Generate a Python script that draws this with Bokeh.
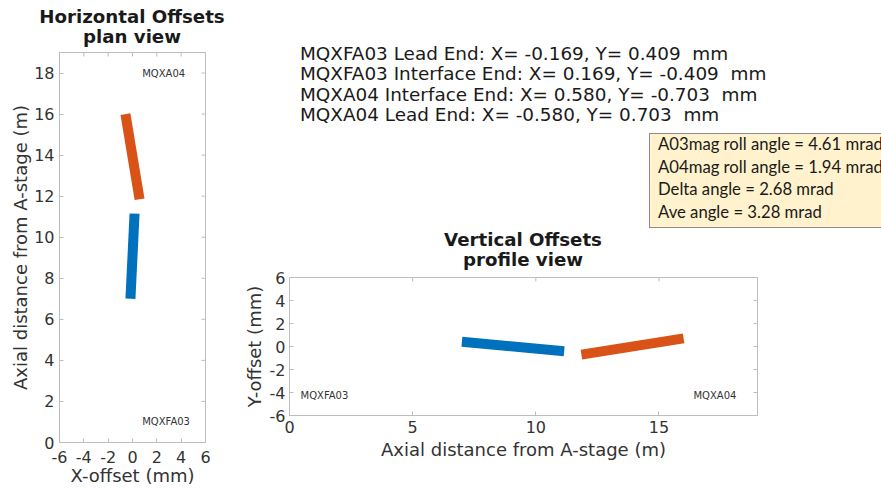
import math
from bokeh.plotting import figure
from bokeh.layouts import row, column
from bokeh.models import Range1d, FixedTicker, Div
from bokeh.core.properties import value
from bokeh.embed import file_html
from bokeh.resources import INLINE

# ---------------- data ----------------
# MQXFA03 (blue): lead end -> interface end
a03_z = [7.0, 11.15]          # axial distance from A-stage (m)
a03_x = [-0.169, 0.169]       # X-offset (mm)
a03_y = [0.409, -0.409]       # Y-offset (mm)
# MQXA04 (orange): interface end -> lead end
a04_z = [11.85, 16.0]
a04_x = [0.580, -0.580]
a04_y = [-0.703, 0.703]

roll_names = ["A03mag roll angle", "A04mag roll angle", "Delta angle", "Ave angle"]
roll_values = [4.61, 1.94, 2.68, 3.28]

plan_x_ticks = [-6, -4, -2, 0, 2, 4, 6]
plan_y_ticks = [0, 2, 4, 6, 8, 10, 12, 14, 16, 18]
prof_x_ticks = [0, 5, 10, 15]
prof_y_ticks = [-6, -4, -2, 0, 2, 4, 6]

BLUE = "#0072BD"
ORANGE = "#D95319"
FRAME = "#bdbdbd"
TXT = "#333333"
FONT = "DejaVu Sans"


def style_axis(ax, ticks):
    ax.ticker = FixedTicker(ticks=ticks)
    ax.major_label_overrides = {t: str(t) for t in ticks}
    ax.axis_line_color = FRAME
    ax.major_tick_line_color = FRAME
    ax.major_tick_in = 4
    ax.major_tick_out = 0
    ax.minor_tick_line_color = None
    ax.major_label_text_font = FONT
    ax.major_label_text_font_size = "16px"
    ax.major_label_text_color = TXT
    ax.axis_label_text_font = FONT
    ax.axis_label_text_font_size = "18px"
    ax.axis_label_text_font_style = "normal"
    ax.axis_label_text_color = TXT


def mirror_ticks(p, xticks, yticks, xmax, ymax):
    # inward tick marks on the top and right edges (outer half is clipped by the frame)
    p.scatter(xticks, [ymax] * len(xticks), marker="dash", size=8, angle=math.pi / 2,
              line_color=FRAME, line_width=1)
    p.scatter([xmax] * len(yticks), yticks, marker="dash", size=8,
              line_color=FRAME, line_width=1)


def abs_text(left, top, text, size, font=FONT, weight="normal", width=None, align="left"):
    w = f"width:{width}px;" if width is not None else ""
    return (f'<div style="position:absolute;left:{left}px;top:{top}px;{w}'
            f'text-align:{align};white-space:pre;font-family:\'{font}\';font-size:{size}px;'
            f'font-weight:{weight};line-height:20px;color:#1a1a1a;">{text}</div>')


# ---------------- left: plan view ----------------
lt_html = ('<div style="position:relative;width:240px;height:48px;background:white;">'
           + abs_text(0, 7, "Horizontal Offsets", 18.2, weight="bold", width=264, align="center")
           + abs_text(0, 27, "plan view", 18.2, weight="bold", width=264, align="center")
           + '</div>')
lt = Div(text=lt_html, width=240, height=48, margin=0)

lp = figure(width=240, height=440, x_range=Range1d(-6, 6), y_range=Range1d(0, 19),
            min_border_left=59, min_border_right=35, min_border_top=4, min_border_bottom=46,
            toolbar_location=None, output_backend="svg")
lp.grid.visible = False
lp.outline_line_color = FRAME
style_axis(lp.xaxis[0], plan_x_ticks)
style_axis(lp.yaxis[0], plan_y_ticks)
lp.xaxis.axis_label = "X-offset (mm)"
lp.yaxis.axis_label = "Axial distance from A-stage (m)"
lp.xaxis.major_label_standoff = 8
lp.xaxis.axis_label_standoff = -1
lp.yaxis.major_label_standoff = 5
lp.yaxis.axis_label_standoff = 0
mirror_ticks(lp, plan_x_ticks, plan_y_ticks, 6, 19)
lp.line(a03_x, a03_z, line_width=10, color=BLUE, line_cap="butt")
lp.line(a04_x, a04_z, line_width=10, color=ORANGE, line_cap="butt")
lp.text(x=[0.8, 0.8], y=[18.0, 1.0], text=["MQXA04", "MQXFA03"],
        text_font=value(FONT), text_font_size="10px", text_color=TXT,
        text_align="left", text_baseline="middle")

# ---------------- right top: annotations + bottom-plot title ----------------
lines = [
    f"MQXFA03 Lead End: X= {a03_x[0]:.3f}, Y= {a03_y[0]:.3f}  mm",
    f"MQXFA03 Interface End: X= {a03_x[1]:.3f}, Y= {a03_y[1]:.3f}  mm",
    f"MQXA04 Interface End: X= {a04_x[0]:.3f}, Y= {a04_y[0]:.3f}  mm",
    f"MQXA04 Lead End: X= {a04_x[1]:.3f}, Y= {a04_y[1]:.3f}  mm",
]
rt_html = '<div style="position:relative;width:641px;height:262px;overflow:visible;">'
for i, t in enumerate(lines):
    rt_html += abs_text(60, 43.6 + 20.5 * i, t, 18.4)
rt_html += ('<div style="position:absolute;left:409px;top:133px;width:232px;height:95px;'
            'box-sizing:border-box;background:#FFF2CC;border:1px solid #8c8c8c;border-right:none;"></div>')
for i, (n, v) in enumerate(zip(roll_names, roll_values)):
    rt_html += abs_text(418, 134 + 22.5 * i, f"{n} = {v:.2f} mrad", 16.7, font="Lato")
rt_html += abs_text(0, 229.7, "Vertical Offsets", 18.2, weight="bold", width=566, align="center")
rt_html += abs_text(0, 250.2, "profile view", 18.2, weight="bold", width=566, align="center")
rt_html += '</div>'
rt = Div(text=rt_html, width=641, height=262, margin=0, styles={"overflow": "visible"})

# ---------------- right bottom: profile view ----------------
bp = figure(width=641, height=226, x_range=Range1d(0, 19), y_range=Range1d(-6, 6),
            min_border_left=49, min_border_right=124, min_border_top=15, min_border_bottom=73,
            toolbar_location=None, output_backend="svg")
bp.border_fill_alpha = 0
bp.grid.visible = False
bp.outline_line_color = FRAME
style_axis(bp.xaxis[0], prof_x_ticks)
style_axis(bp.yaxis[0], prof_y_ticks)
bp.xaxis.axis_label = "Axial distance from A-stage (m)"
bp.yaxis.axis_label = "Y-offset (mm)"
bp.xaxis.major_label_standoff = 5
bp.xaxis.axis_label_standoff = 3
bp.yaxis.major_label_standoff = 4
bp.yaxis.axis_label_standoff = 2
mirror_ticks(bp, prof_x_ticks, prof_y_ticks, 19, 6)
bp.line(a03_z, a03_y, line_width=10, color=BLUE, line_cap="butt")
bp.line(a04_z, a04_y, line_width=10, color=ORANGE, line_cap="butt")
bp.text(x=[0.45, 16.4], y=[-4.3, -4.3], text=["MQXFA03", "MQXA04"],
        text_font=value(FONT), text_font_size="10px", text_color=TXT,
        text_align="left", text_baseline="middle")

layout = row(column(lt, lp), column(rt, bp))
open("out.html", "w").write(file_html(layout, INLINE))
